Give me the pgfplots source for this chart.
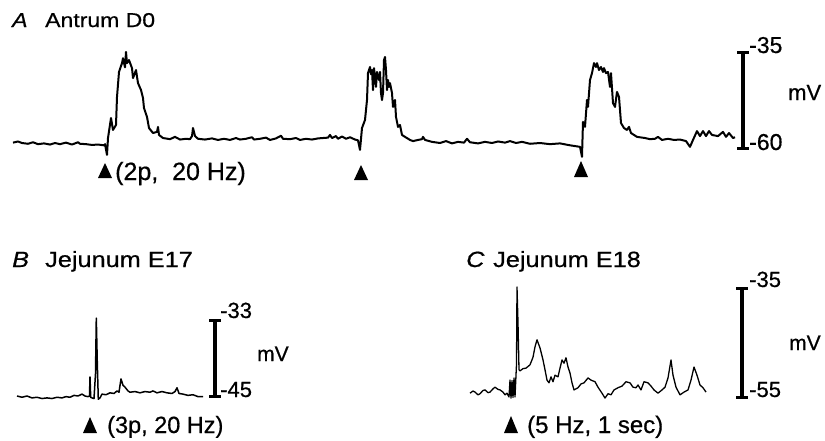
\documentclass[border=0pt]{standalone}
\usepackage{fontspec}
\setmainfont{Liberation Sans}[FakeBold=0.6]
\newfontfamily\titlefont{Liberation Sans}[FakeStretch=1.15,FakeBold=0.6]
\usepackage{pgfplots}
\pgfplotsset{compat=1.18}
\newcommand{\fsz}[1]{\fontsize{#1bp}{#1bp}\selectfont}
\pgfplotsset{trace/.style={scale only axis, axis lines=none, ticks=none, clip=false, anchor=south west}}
\tikzset{lab/.style={anchor=base west, inner sep=0pt}}
\begin{document}
\begin{tikzpicture}
\useasboundingbox (0,0) rectangle (825bp,-441bp);
% ---------------- Panel A ----------------
\begin{axis}[trace, at={(13bp,-148bp)}, width=730bp, height=96bp,
  xmin=13, xmax=743, ymin=-60, ymax=-35]
\addplot[black, mark=none, line width=2bp, line join=round] coordinates {
(13,-58.6)(18,-58.3)(22,-58.7)(28,-58.9)(33,-58.5)(38,-59.0)(44,-58.8)(50,-59.1)
(55,-58.7)(60,-59.0)(66,-58.6)(72,-59.1)(78,-58.5)(80,-58.9)(86,-59.0)(92,-59.2)
(98,-59.1)(104,-59.3)(105,-59.0)(107,-61.8)(108,-57.4)(111,-52.2)(113,-55.3)(116,-54.0)
(117,-46.7)(119,-40.2)(122,-37.9)(123,-36.6)(125,-39.0)(126,-35.0)(127,-37.9)(129,-37.1)
(132,-39.2)(133,-41.8)(136,-39.7)(138,-43.1)(141,-44.9)(143,-47.0)(144,-49.6)(147,-51.9)
(149,-54.8)(153,-56.1)(157,-55.8)(158,-54.5)(159,-56.6)(163,-57.4)(170,-57.7)(175,-57.1)
(180,-57.8)(186,-57.6)(190,-57.7)(192,-56.9)(193,-54.8)(195,-56.9)(198,-57.6)(205,-57.8)
(212,-57.5)(218,-57.9)(224,-57.6)(230,-57.9)(236,-57.4)(240,-57.8)(246,-57.6)(252,-57.2)
(254,-57.8)(260,-57.6)(266,-57.3)(270,-57.9)(276,-57.5)(281,-56.8)(283,-57.6)(290,-57.7)
(296,-57.4)(300,-57.9)(306,-57.6)(312,-57.8)(318,-57.5)(328,-57.3)(330,-56.6)(332,-57.4)
(336,-56.9)(338,-57.6)(342,-57.0)(346,-57.6)(350,-57.2)(355,-57.8)(358,-58.0)(360,-60.5)
(362,-54.8)(365,-52.7)(367,-47.5)(368,-40.5)(370,-38.9)(371,-40.8)(372,-39.7)(373,-44.9)
(374,-39.2)(376,-44.1)(377,-40.2)(379,-42.3)(380,-40.2)(381,-45.7)(382,-47.5)(383,-45.7)
(384,-37.1)(385,-36.3)(386,-39.7)(387,-44.9)(388,-42.3)(389,-44.1)(390,-43.1)(392,-45.7)
(393,-49.3)(395,-47.5)(396,-51.9)(398,-54.5)(400,-54.0)(402,-56.6)(405,-57.1)(410,-57.9)
(413,-58.2)(418,-57.9)(422,-57.7)(423,-57.1)(425,-57.9)(432,-58.4)(440,-58.7)(446,-58.2)
(452,-58.8)(458,-58.4)(464,-58.6)(467,-57.6)(470,-58.5)(478,-58.8)(485,-58.4)(492,-58.7)
(498,-58.3)(505,-58.6)(510,-58.2)(516,-58.7)(522,-58.4)(530,-58.9)(540,-58.7)(550,-59.0)
(560,-58.8)(570,-59.3)(575,-59.5)(580,-59.7)(582,-62.3)(583,-53.2)(585,-54.5)(587,-47.5)
(588,-49.3)(590,-42.3)(592,-40.5)(594,-37.9)(596,-38.9)(597,-37.9)(599,-39.7)(601,-38.9)
(603,-40.2)(604,-39.2)(606,-40.5)(608,-40.2)(610,-44.1)(611,-40.5)(613,-48.3)(615,-49.3)
(617,-45.4)(619,-46.7)(621,-53.5)(624,-54.8)(627,-55.3)(629,-54.5)(631,-56.1)(637,-57.1)
(645,-57.4)(650,-57.7)(655,-57.6)(658,-57.1)(662,-57.9)(668,-57.6)(674,-57.9)(680,-57.8)
(686,-58.2)(690,-59.7)(693,-57.9)(697,-55.6)(700,-56.9)(703,-55.6)(706,-56.9)(709,-55.6)
(712,-56.6)(718,-56.9)(723,-55.8)(726,-57.1)(729,-56.1)(733,-57.4)(735,-57.2)
};
\draw[line width=3.5bp] (axis cs:743,-60) -- (axis cs:743,-35);
\draw[line width=3bp] ([xshift=-6bp]axis cs:743,-35) -- ([xshift=6bp]axis cs:743,-35);
\draw[line width=3bp] ([xshift=-6bp]axis cs:743,-60) -- ([xshift=6bp]axis cs:743,-60);
\end{axis}
% ---------------- Panel B ----------------
\begin{axis}[trace, at={(17bp,-396bp)}, width=198bp, height=76bp,
  xmin=17, xmax=215, ymin=-45, ymax=-33]
\addplot[black, mark=none, line width=1.5bp, line join=round] coordinates {
(17,-45.0)(22,-45.2)(27,-45.0)(32,-45.3)(37,-45.2)(42,-45.4)(47,-45.3)(52,-45.4)
(57,-45.2)(62,-45.3)(66,-45.1)(70,-45.2)(74,-44.9)(78,-45.0)(82,-44.7)(85,-45.0)
(88,-45.1)(89.5,-45.0)(90,-42.0)(90.7,-45.2)(92,-45.3)(94,-45.4)(95.5,-41.5)(96.3,-32.7)
(97.3,-39.8)(98.3,-45.5)(100,-45.3)(102,-44.7)(106,-44.8)(110,-44.5)(114,-44.6)(117,-44.2)
(119,-44.4)(121,-42.3)(123,-43.3)(125,-43.6)(128,-44.2)(130,-44.4)(135,-44.3)(140,-44.5)
(145,-44.3)(150,-44.4)(153,-44.2)(157,-44.5)(162,-44.3)(167,-44.5)(172,-44.6)(175,-44.3)
(177,-43.7)(179,-44.6)(183,-44.7)(188,-44.9)(193,-44.8)(198,-45.1)(203,-45.1)
};
\draw[line width=3.5bp] (axis cs:215,-45) -- (axis cs:215,-33);
\draw[line width=3bp] ([xshift=-6bp]axis cs:215,-33) -- ([xshift=6bp]axis cs:215,-33);
\draw[line width=3bp] ([xshift=-6bp]axis cs:215,-45) -- ([xshift=6bp]axis cs:215,-45);
\end{axis}
% ---------------- Panel C ----------------
\begin{axis}[trace, at={(470bp,-397bp)}, width=272bp, height=109bp,
  xmin=470, xmax=742, ymin=-55, ymax=-35]
\addplot[black, mark=none, line width=1.3bp, line join=round] coordinates {
(470,-54.3)(473,-53.9)(475,-54.1)(478,-54.6)(480,-54.4)(483,-53.8)(485,-53.7)(488,-54.2)
(490,-54.1)(493,-53.5)(495,-53.2)(498,-53.6)(500,-53.7)(503,-54.1)(505,-54.6)(507,-54.3)
(509,-55.0)(510,-51.9)(511,-55.2)(512,-52.0)(513,-55.1)(514,-51.5)(515,-55.0)(516.5,-49.0)
(517,-34.8)(518,-41.4)(519,-50.0)(520,-50.2)(523,-49.8)(526,-49.7)(530,-49.1)(533,-47.7)
(535,-45.8)(537,-44.5)(540,-46.0)(543,-48.2)(545,-50.0)(547,-51.9)(549,-52.4)(551,-51.3)
(553,-52.2)(555,-51.0)(558,-51.3)(560,-49.7)(562,-48.2)(564,-48.8)(566,-47.8)(568,-49.5)
(570,-50.6)(572,-52.4)(574,-53.7)(578,-53.3)(581,-52.6)(584,-52.4)(588,-51.5)(591,-51.9)
(595,-52.2)(598,-53.2)(602,-54.3)(605,-55.2)(608,-54.4)(611,-54.6)(614,-53.7)(618,-53.3)
(622,-53.0)(626,-52.2)(630,-52.4)(633,-53.2)(636,-53.3)(638,-52.8)(641,-53.7)(644,-52.2)
(648,-52.4)(651,-53.0)(654,-53.7)(658,-54.3)(662,-53.7)(665,-53.2)(668,-51.5)(671,-48.2)
(673,-51.0)(676,-53.2)(680,-54.6)(684,-54.1)(688,-53.7)(691,-51.9)(694,-49.5)(697,-51.0)
(700,-52.8)(703,-53.3)(706,-54.1)
};
\draw[line width=3.5bp] (axis cs:742,-55) -- (axis cs:742,-35);
\draw[line width=3bp] ([xshift=-6bp]axis cs:742,-35) -- ([xshift=6bp]axis cs:742,-35);
\draw[line width=3bp] ([xshift=-6bp]axis cs:742,-55) -- ([xshift=6bp]axis cs:742,-55);
\end{axis}
% ---------------- Titles ----------------
\node[lab] at (12bp,-27bp) {\titlefont\fsz{20}\itshape A};
\node[lab] at (45bp,-27bp) {\titlefont\fsz{20}Antrum D0};
\node[lab] at (12bp,-267bp) {\titlefont\fsz{22}\itshape B};
\node[lab] at (45bp,-267bp) {\titlefont\fsz{22}Jejunum E17};
\node[lab] at (466bp,-267bp) {\titlefont\fsz{22}\itshape C};
\node[lab] at (493bp,-267bp) {\titlefont\fsz{22}Jejunum E18};
% ---------------- Scale labels ----------------
\node[lab] at (749bp,-53bp) {\fsz{23}-35};
\node[lab] at (749bp,-150bp) {\fsz{23}-60};
\node[lab] at (788bp,-100bp) {\fsz{22}mV};
\node[lab] at (220bp,-318bp) {\fsz{22}-33};
\node[lab] at (220bp,-397bp) {\fsz{22}-45};
\node[lab] at (257bp,-361bp) {\fsz{21}mV};
\node[lab] at (749bp,-287bp) {\fsz{22}-35};
\node[lab] at (749bp,-397bp) {\fsz{22}-55};
\node[lab] at (789bp,-350bp) {\fsz{21}mV};
% ---------------- Stimulus markers ----------------
\fill (105bp,-163bp) -- (112bp,-178bp) -- (98bp,-178bp) -- cycle;
\fill (361bp,-165bp) -- (368bp,-180bp) -- (354bp,-180bp) -- cycle;
\fill (581bp,-161bp) -- (588bp,-177bp) -- (574bp,-177bp) -- cycle;
\fill (90bp,-417bp) -- (97bp,-433bp) -- (83bp,-433bp) -- cycle;
\fill (511bp,-416bp) -- (518bp,-433bp) -- (504bp,-433bp) -- cycle;
\node[lab] at (115bp,-180bp) {\fsz{25}(2p,\ \ 20 Hz)};
\node[lab] at (107bp,-433bp) {\fsz{23.5}(3p, 20 Hz)};
\node[lab] at (527bp,-433bp) {\fsz{24}(5 Hz, 1 sec)};
\end{tikzpicture}
\end{document}
